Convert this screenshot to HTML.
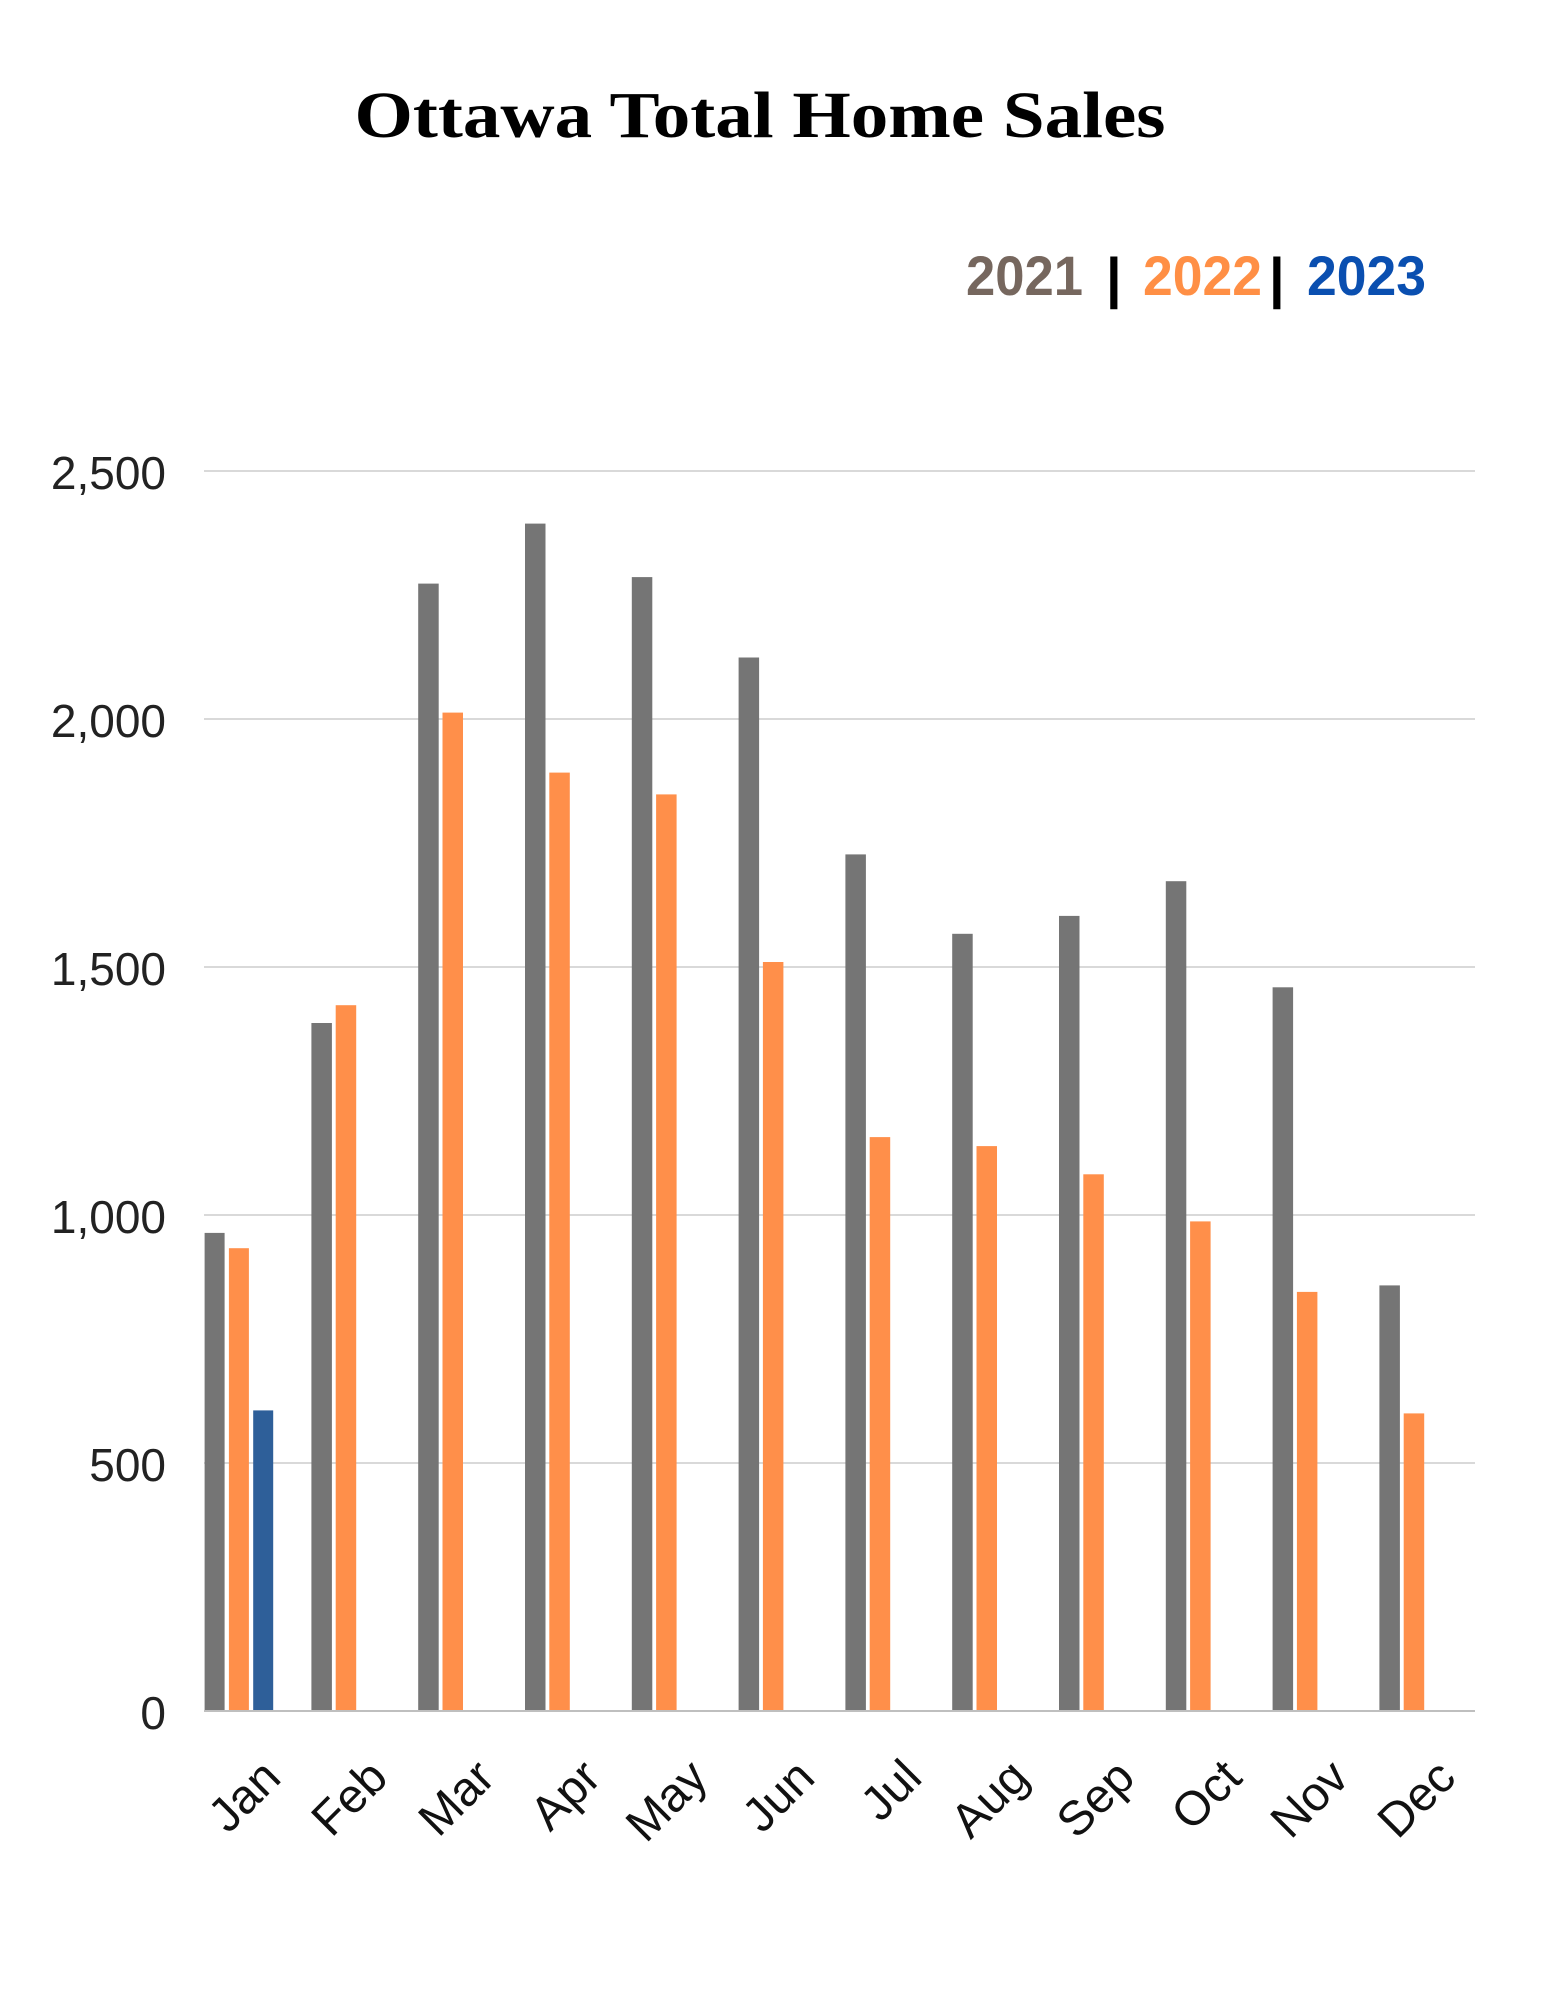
<!DOCTYPE html>
<html><head><meta charset="utf-8"><style>html,body{margin:0;padding:0;background:#fff}</style></head>
<body>
<svg width="1545" height="2000" viewBox="0 0 1545 2000" xmlns="http://www.w3.org/2000/svg">
<rect width="1545" height="2000" fill="#fff"/>
<text x="760" y="137" text-anchor="middle" font-family="Liberation Serif, serif" font-weight="bold" font-size="66" textLength="811" lengthAdjust="spacingAndGlyphs" fill="#000">Ottawa Total Home Sales</text>
<g font-family="Liberation Sans, sans-serif" font-weight="bold" font-size="56">
<text x="966" y="295" textLength="117" lengthAdjust="spacingAndGlyphs" fill="#76675e">2021</text>
<text x="1106" y="297" fill="#000">|</text>
<text x="1143" y="295" textLength="119" lengthAdjust="spacingAndGlyphs" fill="#ff8f45">2022</text>
<text x="1269" y="297" fill="#000">|</text>
<text x="1307" y="295" textLength="119" lengthAdjust="spacingAndGlyphs" fill="#0a4fb0">2023</text>
</g>
<g stroke="#d9d9d9" stroke-width="2">
<line x1="204" x2="1475" y1="1463" y2="1463"/>
<line x1="204" x2="1475" y1="1215" y2="1215"/>
<line x1="204" x2="1475" y1="967" y2="967"/>
<line x1="204" x2="1475" y1="719" y2="719"/>
<line x1="204" x2="1475" y1="471" y2="471"/>
</g>
<g font-family="Liberation Sans, sans-serif" font-size="46" fill="#222" text-anchor="end">
<text x="166" y="1729">0</text>
<text x="166" y="1481">500</text>
<text x="166" y="1233">1,000</text>
<text x="166" y="985">1,500</text>
<text x="166" y="737">2,000</text>
<text x="166" y="489">2,500</text>
</g>
<g>
<rect x="204.6" y="1232.9" width="20" height="478.1" fill="#757575"/>
<rect x="228.9" y="1248.2" width="20" height="462.8" fill="#ff8f4a"/>
<rect x="253.2" y="1410.4" width="20" height="300.6" fill="#2e5f99"/>
<rect x="311.4" y="1023.0" width="20.5" height="688.0" fill="#757575"/>
<rect x="335.7" y="1005.2" width="20.5" height="705.8" fill="#ff8f4a"/>
<rect x="418.2" y="583.6" width="20.5" height="1127.4" fill="#757575"/>
<rect x="442.5" y="712.6" width="20.5" height="998.4" fill="#ff8f4a"/>
<rect x="525.0" y="523.6" width="20.5" height="1187.4" fill="#757575"/>
<rect x="549.3" y="772.6" width="20.5" height="938.4" fill="#ff8f4a"/>
<rect x="631.8" y="577.1" width="20.5" height="1133.9" fill="#757575"/>
<rect x="656.1" y="794.4" width="20.5" height="916.6" fill="#ff8f4a"/>
<rect x="738.6" y="657.5" width="20.5" height="1053.5" fill="#757575"/>
<rect x="762.9" y="962.0" width="20.5" height="749.0" fill="#ff8f4a"/>
<rect x="845.4" y="854.4" width="20.5" height="856.6" fill="#757575"/>
<rect x="869.7" y="1137.1" width="20.5" height="573.9" fill="#ff8f4a"/>
<rect x="952.2" y="933.8" width="20.5" height="777.2" fill="#757575"/>
<rect x="976.5" y="1146.1" width="20.5" height="564.9" fill="#ff8f4a"/>
<rect x="1059.0" y="915.9" width="20.5" height="795.1" fill="#757575"/>
<rect x="1083.3" y="1174.3" width="20.5" height="536.7" fill="#ff8f4a"/>
<rect x="1165.8" y="881.2" width="20.5" height="829.8" fill="#757575"/>
<rect x="1190.1" y="1221.4" width="20.5" height="489.6" fill="#ff8f4a"/>
<rect x="1272.6" y="987.3" width="20.5" height="723.7" fill="#757575"/>
<rect x="1296.9" y="1291.9" width="20.5" height="419.1" fill="#ff8f4a"/>
<rect x="1379.4" y="1285.4" width="20.5" height="425.6" fill="#757575"/>
<rect x="1403.7" y="1413.4" width="20.5" height="297.6" fill="#ff8f4a"/>
</g>
<line x1="204" x2="1475" y1="1711" y2="1711" stroke="#bfbfbf" stroke-width="2"/>
<g font-family="Liberation Sans, sans-serif" font-size="48" fill="#111" text-anchor="end">
<text transform="translate(283,1780) rotate(-45)">Jan</text>
<text transform="translate(390,1780) rotate(-45)">Feb</text>
<text transform="translate(497,1780) rotate(-45)">Mar</text>
<text transform="translate(603,1780) rotate(-45)">Apr</text>
<text transform="translate(710,1780) rotate(-45)">May</text>
<text transform="translate(817,1780) rotate(-45)">Jun</text>
<text transform="translate(924,1780) rotate(-45)">Jul</text>
<text transform="translate(1031,1780) rotate(-45)">Aug</text>
<text transform="translate(1137,1780) rotate(-45)">Sep</text>
<text transform="translate(1244,1780) rotate(-45)">Oct</text>
<text transform="translate(1351,1780) rotate(-45)">Nov</text>
<text transform="translate(1458,1780) rotate(-45)">Dec</text>
</g>
</svg>
</body></html>
